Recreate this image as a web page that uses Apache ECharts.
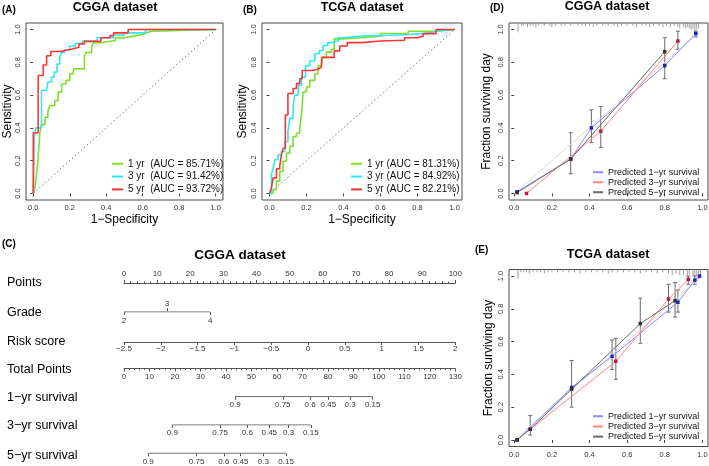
<!DOCTYPE html>
<html><head><meta charset="utf-8">
<script src="https://cdn.jsdelivr.net/npm/echarts@6/dist/echarts.min.js"></script>
<style>html,body{margin:0;padding:0;background:#fff}#c{width:709px;height:466px}</style>
</head><body><div id="c"></div>
<script>
// ---------------- DATA ----------------
const axisTickVals = [0, 0.2, 0.4, 0.6, 0.8, 1.0];
const rocYears = ['1 yr', '3 yr', '5 yr'];
const cggaAUC = ['85.71%', '91.42%', '93.72%'];
const tcgaAUC = ['81.31%', '84.92%', '82.21%'];

// ROC points [1-specificity, sensitivity]
const cggaRoc1 = [[0,0],[0.005,0.02],[0.01,0.04],[0.015,0.09],[0.02,0.14],[0.025,0.19],[0.027,0.24],[0.032,0.30],[0.036,0.37],[0.045,0.42],[0.064,0.465],[0.08,0.50],[0.09,0.537],[0.118,0.567],[0.136,0.618],[0.155,0.668],[0.18,0.69],[0.2,0.73],[0.22,0.76],[0.28,0.84],[0.29,0.86],[0.32,0.90],[0.33,0.92],[0.37,0.93],[0.43,0.935],[0.45,0.95],[0.5,0.96],[0.55,0.97],[0.6,0.98],[0.62,0.99],[0.65,1.0],[1,1]];
const cggaRoc3 = [[0,0],[0.005,0.34],[0.015,0.40],[0.045,0.63],[0.073,0.64],[0.08,0.68],[0.1,0.71],[0.114,0.74],[0.13,0.79],[0.145,0.83],[0.155,0.86],[0.17,0.875],[0.2,0.90],[0.23,0.915],[0.27,0.93],[0.35,0.95],[0.44,0.967],[0.5,0.98],[0.61,0.99],[0.62,1.0],[1,1]];
const cggaRoc5 = [[0,0],[0,0.37],[0.027,0.72],[0.054,0.784],[0.073,0.84],[0.096,0.866],[0.155,0.875],[0.18,0.88],[0.21,0.892],[0.25,0.912],[0.28,0.928],[0.37,0.95],[0.42,0.963],[0.44,0.98],[0.52,1.0],[1,1]];
const tcgaRoc1 = [[0,0],[0.02,0.024],[0.038,0.075],[0.056,0.135],[0.074,0.196],[0.092,0.246],[0.11,0.287],[0.128,0.347],[0.146,0.367],[0.164,0.398],[0.173,0.479],[0.182,0.62],[0.2,0.65],[0.218,0.69],[0.245,0.73],[0.263,0.78],[0.281,0.83],[0.308,0.862],[0.335,0.88],[0.35,0.943],[0.39,0.95],[0.5,0.96],[0.6,0.976],[0.75,0.99],[0.9,1.0],[1,1]];
const tcgaRoc3 = [[0,0],[0.011,0.115],[0.02,0.15],[0.03,0.206],[0.047,0.236],[0.065,0.256],[0.083,0.317],[0.1,0.378],[0.11,0.458],[0.128,0.529],[0.137,0.6],[0.155,0.66],[0.173,0.71],[0.195,0.78],[0.218,0.81],[0.245,0.852],[0.27,0.872],[0.29,0.903],[0.315,0.92],[0.34,0.93],[0.37,0.95],[0.4,0.96],[0.5,0.965],[0.65,0.97],[0.75,0.975],[0.82,0.98],[0.87,0.99],[0.9,1.0],[1,1]];
const tcgaRoc5 = [[0,0],[0.01,0.03],[0.02,0.095],[0.038,0.15],[0.056,0.17],[0.065,0.236],[0.074,0.276],[0.086,0.479],[0.1,0.61],[0.128,0.64],[0.146,0.67],[0.164,0.70],[0.177,0.75],[0.236,0.76],[0.263,0.77],[0.28,0.78],[0.285,0.83],[0.35,0.87],[0.38,0.90],[0.42,0.92],[0.5,0.93],[0.6,0.935],[0.73,0.95],[0.8,0.96],[0.83,0.975],[0.9,1.0],[1,1]];
const diagonal = [[0,0],[1,1]];

// Calibration [predicted, observed]
const calNames = ['Predicted 1\u2212yr survival', 'Predicted 3\u2212yr survival', 'Predicted 5\u2212yr survival'];
const cggaCal1 = [[0.015,0.01],[0.30,0.21],[0.41,0.40],[0.80,0.78],[0.965,0.975]];
const cggaCal3 = [[0.065,0.0],[0.46,0.38],[0.87,0.93]];
const cggaCal5 = [[0.015,0.005],[0.30,0.21],[0.80,0.865]];
const cggaErr = [[0.30,0.12,0.37],[0.41,0.31,0.51],[0.46,0.28,0.53],[0.80,0.70,0.95],[0.87,0.88,0.99],[0.965,0.955,0.99]];
const tcgaCal1 = [[0.015,0.0],[0.305,0.32],[0.52,0.51],[0.87,0.84],[0.96,0.975],[0.985,1.0]];
const tcgaCal3 = [[0.085,0.065],[0.54,0.48],[0.82,0.86],[0.925,0.98]];
const tcgaCal5 = [[0.015,0.0],[0.085,0.065],[0.305,0.31],[0.67,0.71],[0.855,0.85]];
const tcgaErr = [[0.085,0.03,0.15],[0.305,0.20,0.485],[0.52,0.43,0.61],[0.54,0.37,0.62],[0.67,0.59,0.865],[0.82,0.78,0.95],[0.855,0.75,0.96],[0.87,0.78,0.915],[0.925,0.95,1.0],[0.96,0.95,1.0]];
// rug of predicted values [value, count]
const cggaRug = [[0.02,6],[0.04,1],[0.05,1],[0.07,2],[0.085,1],[0.1,1],[0.115,2],[0.13,1],[0.16,1],[0.19,1],[0.2,2],[0.22,1],[0.25,1],[0.27,1],[0.3,1],[0.34,1],[0.36,1],[0.38,1],[0.4,1],[0.42,2],[0.44,1],[0.47,1],[0.5,1],[0.53,1],[0.55,2],[0.57,1],[0.6,1],[0.63,1],[0.65,2],[0.68,1],[0.7,1],[0.72,2],[0.74,1],[0.77,1],[0.79,2],[0.81,1],[0.83,2],[0.85,1],[0.87,2],[0.88,3],[0.9,2],[0.91,3],[0.92,2],[0.93,3],[0.94,4],[0.95,3],[0.96,5],[0.97,4],[0.98,3]];
const tcgaRug = [[0.02,6],[0.035,1],[0.05,1],[0.065,1],[0.08,2],[0.1,1],[0.12,1],[0.14,1],[0.16,2],[0.18,1],[0.2,1],[0.23,1],[0.26,1],[0.29,1],[0.32,1],[0.35,2],[0.38,1],[0.41,1],[0.44,1],[0.47,1],[0.5,2],[0.52,1],[0.55,1],[0.58,1],[0.61,1],[0.64,1],[0.67,2],[0.7,1],[0.73,1],[0.76,2],[0.79,1],[0.82,2],[0.84,3],[0.86,2],[0.88,3],[0.9,3],[0.92,4],[0.93,3],[0.95,4],[0.96,5],[0.97,4],[0.98,6],[0.99,3]];

// Nomogram
const nomoRows = ['Points', 'Grade', 'Risk score', 'Total Points', '1\u2212yr survival', '3\u2212yr survival', '5\u2212yr survival'];
const gradeLevels = ['2', '3', '4'];
const gradePoints = [0, 13, 26];
const survLabels = ['0.9', '0.75', '0.6', '0.45', '0.3', '0.15'];
const surv1Total = [43.6, 62.3, 73.0, 80.2, 88.7, 97.6];
const surv3Total = [19.0, 37.7, 48.4, 57.0, 64.6, 73.3];
const surv5Total = [9.5, 28.5, 39.2, 45.8, 54.7, 63.6];

// ---------------- CHART ----------------
const FONT = '"Liberation Sans", Arial, Helvetica, sans-serif';
const AX = '#444';
const rocColors = ['#7fe02c', '#2fe8f2', '#ff3535'];
const calLine = ['#8a8aff', '#ff8585', '#6a6a6a'];
const calPt = ['#1f1fc0', '#c01848', '#303030'];

function plotX(gi, min, max, name) {
  return {type:'value', gridIndex:gi, min:min, max:max, position:'bottom',
    axisLine:{show:false}, splitLine:{show:false},
    axisTick:{show:true, customValues:axisTickVals, length:3, lineStyle:{color:AX, width:1}},
    axisLabel:{customValues:axisTickVals, formatter:v=>v.toFixed(1), fontSize:7.5, color:'#333', margin:4, fontFamily:FONT},
    name:name, nameLocation:'middle', nameGap:14, nameMoveOverlap:false,
    nameTextStyle:{fontSize:12, color:'#000', fontFamily:FONT}};
}
function plotY(gi, min, max, name, gap) {
  return {type:'value', gridIndex:gi, min:min, max:max, position:'left',
    axisLine:{show:false}, splitLine:{show:false},
    axisTick:{show:true, customValues:axisTickVals, length:3, lineStyle:{color:AX, width:1}},
    axisLabel:{customValues:axisTickVals, formatter:v=>v.toFixed(1), rotate:90, fontSize:7.5, color:'#333', margin:4, fontFamily:FONT},
    name:name, nameLocation:'middle', nameGap:gap, nameMoveOverlap:false,
    nameTextStyle:{fontSize:12, color:'#000', fontFamily:FONT}};
}
function nomoX(gi, cfg) {
  const base = {type:'value', gridIndex:gi, position:cfg.position || 'bottom', min:cfg.min, max:cfg.max,
    splitLine:{show:false},
    axisLine:{show:cfg.line !== false, onZero:false, lineStyle:{color:'#555', width:1}},
    axisTick:{show:true, inside:false, length:3, lineStyle:{color:'#555', width:1}},
    axisLabel:{fontSize:8, color:'#333', margin:cfg.margin || 4, fontFamily:FONT, showMinLabel:true, showMaxLabel:true},
  };
  if (cfg.interval != null) base.interval = cfg.interval;
  if (cfg.minor) base.minorTick = {show:true, splitNumber:5, length:1.6, lineStyle:{color:'#555', width:1}};
  if (cfg.values) { base.axisTick.customValues = cfg.values; base.axisLabel.customValues = cfg.values; }
  if (cfg.formatter) base.axisLabel.formatter = cfg.formatter;
  return base;
}
const minusFmt = v => String(v).replace('-', '\u2212');
function lookup(vals, labels) {
  return v => { let bi = 0, bd = Infinity; vals.forEach((x,i)=>{const d=Math.abs(x-v); if(d<bd){bd=d;bi=i;}}); return labels[bi]; };
}

const grids = [
  {left:26, top:23, width:197, height:177},
  {left:262, top:23, width:200, height:177},
  {left:509, top:23, width:199, height:177},
  {left:509, top:269.5, width:199, height:177},
  {left:124, top:283, width:331.3, height:1},   // Points (top axis)
  {left:124, top:311, width:331.3, height:1},   // Grade
  {left:124, top:341, width:331.3, height:1},   // Risk score
  {left:124, top:367.5, width:331.3, height:1}, // Total points
  {left:124, top:395.7, width:331.3, height:1}, // 1-yr
  {left:124, top:424, width:331.3, height:1},   // 3-yr
  {left:124, top:452.3, width:331.3, height:1}  // 5-yr
].map((g,i)=>Object.assign({outerBoundsMode:'none', containLabel:false, show:i<4, borderColor:'#4a4a4a', borderWidth:1, backgroundColor:'transparent'}, g));

const xAxes = [
  plotX(0, -0.04, 1.04, '1\u2212Specificity'),
  plotX(1, -0.04, 1.04, '1\u2212Specificity'),
  plotX(2, -0.028, 1.03, ''),
  plotX(3, -0.028, 1.03, ''),
  nomoX(4, {min:0, max:100, interval:10, minor:true, position:'top', margin:5}),
  nomoX(5, {min:0, max:100, line:false, values:[gradePoints[0], gradePoints[2]], formatter:lookup([gradePoints[0], gradePoints[2]], [gradeLevels[0], gradeLevels[2]]), margin:5}),
  nomoX(5, {min:0, max:100, line:false, position:'top', values:[gradePoints[1]], formatter:lookup([gradePoints[1]], [gradeLevels[1]]), margin:3}),
  nomoX(6, {min:-2.5, max:2, interval:0.5, formatter:minusFmt, margin:3}),
  nomoX(7, {min:0, max:130, interval:10, minor:true, margin:4}),
  nomoX(8, {min:0, max:130, line:false, values:surv1Total, formatter:lookup(surv1Total, survLabels), margin:4}),
  nomoX(9, {min:0, max:130, line:false, values:surv3Total, formatter:lookup(surv3Total, survLabels), margin:4}),
  nomoX(10, {min:0, max:130, line:false, values:surv5Total, formatter:lookup(surv5Total, survLabels), margin:4})
];
const yAxes = [
  plotY(0, -0.04, 1.04, 'Sensitivity', 12),
  plotY(1, -0.04, 1.04, 'Sensitivity', 13),
  plotY(2, -0.04, 1.04, 'Fraction surviving day', 16),
  plotY(3, -0.04, 1.04, 'Fraction surviving day', 14)
];
for (let g = 4; g <= 10; g++) yAxes.push({type:'value', gridIndex:g, min:0, max:1, show:false});

const series = [];
function rocPanel(ax, sets, auc, sep) {
  series.push({type:'line', xAxisIndex:ax, yAxisIndex:ax, data:diagonal, showSymbol:false, silent:true,
    lineStyle:{color:'#777', width:1, type:[1.5,2.5]}});
  sets.forEach((d,i)=>series.push({type:'line', name:rocYears[i] + sep + '(AUC = ' + auc[i] + ')', xAxisIndex:ax, yAxisIndex:ax,
    data:d, step:'end', showSymbol:false, color:rocColors[i], lineStyle:{color:rocColors[i], width:1.6}}));
}
rocPanel(0, [cggaRoc1, cggaRoc3, cggaRoc5], cggaAUC, '  ');
rocPanel(1, [tcgaRoc1, tcgaRoc3, tcgaRoc5], tcgaAUC, ' ');

function calPanel(ax, sets, err, rug) {
  series.push({type:'line', xAxisIndex:ax, yAxisIndex:ax, data:diagonal, showSymbol:false, silent:true,
    lineStyle:{color:'#dcdcdc', width:1}});
  series.push({type:'custom', xAxisIndex:ax, yAxisIndex:ax, data:rug, silent:true,
    renderItem:(p, api)=>{ const top = api.coord([api.value(0), 1.04]);
      return {type:'line', shape:{x1:top[0], y1:top[1], x2:top[0], y2:top[1] + 1.5 + api.value(1)*1.3},
        style:{stroke:'#888', lineWidth:0.8}}; }});
  series.push({type:'custom', xAxisIndex:ax, yAxisIndex:ax, data:err, silent:true,
    renderItem:(p, api)=>{ const lo = api.coord([api.value(0), api.value(1)]); const hi = api.coord([api.value(0), api.value(2)]);
      const st = {stroke:'#6a6a6a', lineWidth:1};
      return {type:'group', children:[
        {type:'line', shape:{x1:lo[0], y1:lo[1], x2:hi[0], y2:hi[1]}, style:st},
        {type:'line', shape:{x1:lo[0]-2, y1:lo[1], x2:lo[0]+2, y2:lo[1]}, style:st},
        {type:'line', shape:{x1:hi[0]-2, y1:hi[1], x2:hi[0]+2, y2:hi[1]}, style:st}]}; }});
  sets.forEach((d,i)=>series.push({type:'line', name:calNames[i], xAxisIndex:ax, yAxisIndex:ax, data:d,
    showSymbol:true, symbol:'rect', symbolSize:3.5, color:calLine[i],
    lineStyle:{color:calLine[i], width:1}, itemStyle:{color:calPt[i]}}));
}
calPanel(2, [cggaCal1, cggaCal3, cggaCal5], cggaErr, cggaRug);
calPanel(3, [tcgaCal1, tcgaCal3, tcgaCal5], tcgaErr, tcgaRug);

// nomogram row lines
series.push({type:'line', xAxisIndex:5, yAxisIndex:5, data:[[gradePoints[0],0],[gradePoints[2],0]], showSymbol:false, silent:true, lineStyle:{color:'#555', width:1}});
[[8, surv1Total], [9, surv3Total], [10, surv5Total]].forEach(([k, v], j)=>{
  series.push({type:'line', xAxisIndex:9 + j, yAxisIndex:k, data:[[v[0],0],[v[v.length-1],0]], showSymbol:false, silent:true, lineStyle:{color:'#555', width:1}});
});

function legend(left, top, names, colors, fs, gap, iw) {
  return {left:left, top:top, orient:'vertical', itemWidth:iw, itemHeight:2, itemGap:gap, icon:'rect', padding:0,
    selectedMode:false, textStyle:{fontSize:fs, color:'#111', fontFamily:FONT, lineHeight:fs+1.5},
    data:names.map((n,i)=>({name:n, itemStyle:{color:colors[i]}}))};
}
const legends = [
  legend(112, 158, rocYears.map((y,i)=>y + '  (AUC = ' + cggaAUC[i] + ')'), rocColors, 10, 1.3, 11),
  legend(351, 158, rocYears.map((y,i)=>y + ' (AUC = ' + tcgaAUC[i] + ')'), rocColors, 10, 1.3, 11),
  legend(593, 167, calNames, calLine, 9, -0.5, 10),
  legend(593, 411, calNames, calLine, 9, -0.3, 10)
];

function txt(x, y, s, size, bold, align) {
  return {type:'text', x:x, y:y, silent:true, style:{text:s, fontSize:size, fontWeight:bold ? 'bold' : 'normal', fontFamily:FONT,
    fill:'#000', align:align || 'center', verticalAlign:'middle'}};
}
const rowY = [283, 313, 342, 370, 398, 426, 456];
const graphics = [
  txt(2, 10, '(A)', 10, true, 'left'), txt(115, 8, 'CGGA dataset', 12.5, true),
  txt(243, 10, '(B)', 10, true, 'left'), txt(362, 8, 'TCGA dataset', 12.5, true),
  txt(490, 8, '(D)', 10, true, 'left'), txt(607, 7, 'CGGA dataset', 12.5, true),
  txt(2, 244, '(C)', 10, true, 'left'), txt(240, 255, 'CGGA dataset', 13.5, true),
  txt(475, 250, '(E)', 10, true, 'left'), txt(608, 255, 'TCGA dataset', 12.5, true)
].concat(nomoRows.map((r,i)=>txt(7, rowY[i], r, 12.5, false, 'left')));

const chart = echarts.init(document.getElementById('c'), null, {renderer:'canvas'});
chart.setOption({
  animation:false, backgroundColor:'#fff',
  textStyle:{fontFamily:FONT},
  grid:grids, xAxis:xAxes, yAxis:yAxes, series:series, legend:legends, graphic:graphics
});
</script></body></html>
